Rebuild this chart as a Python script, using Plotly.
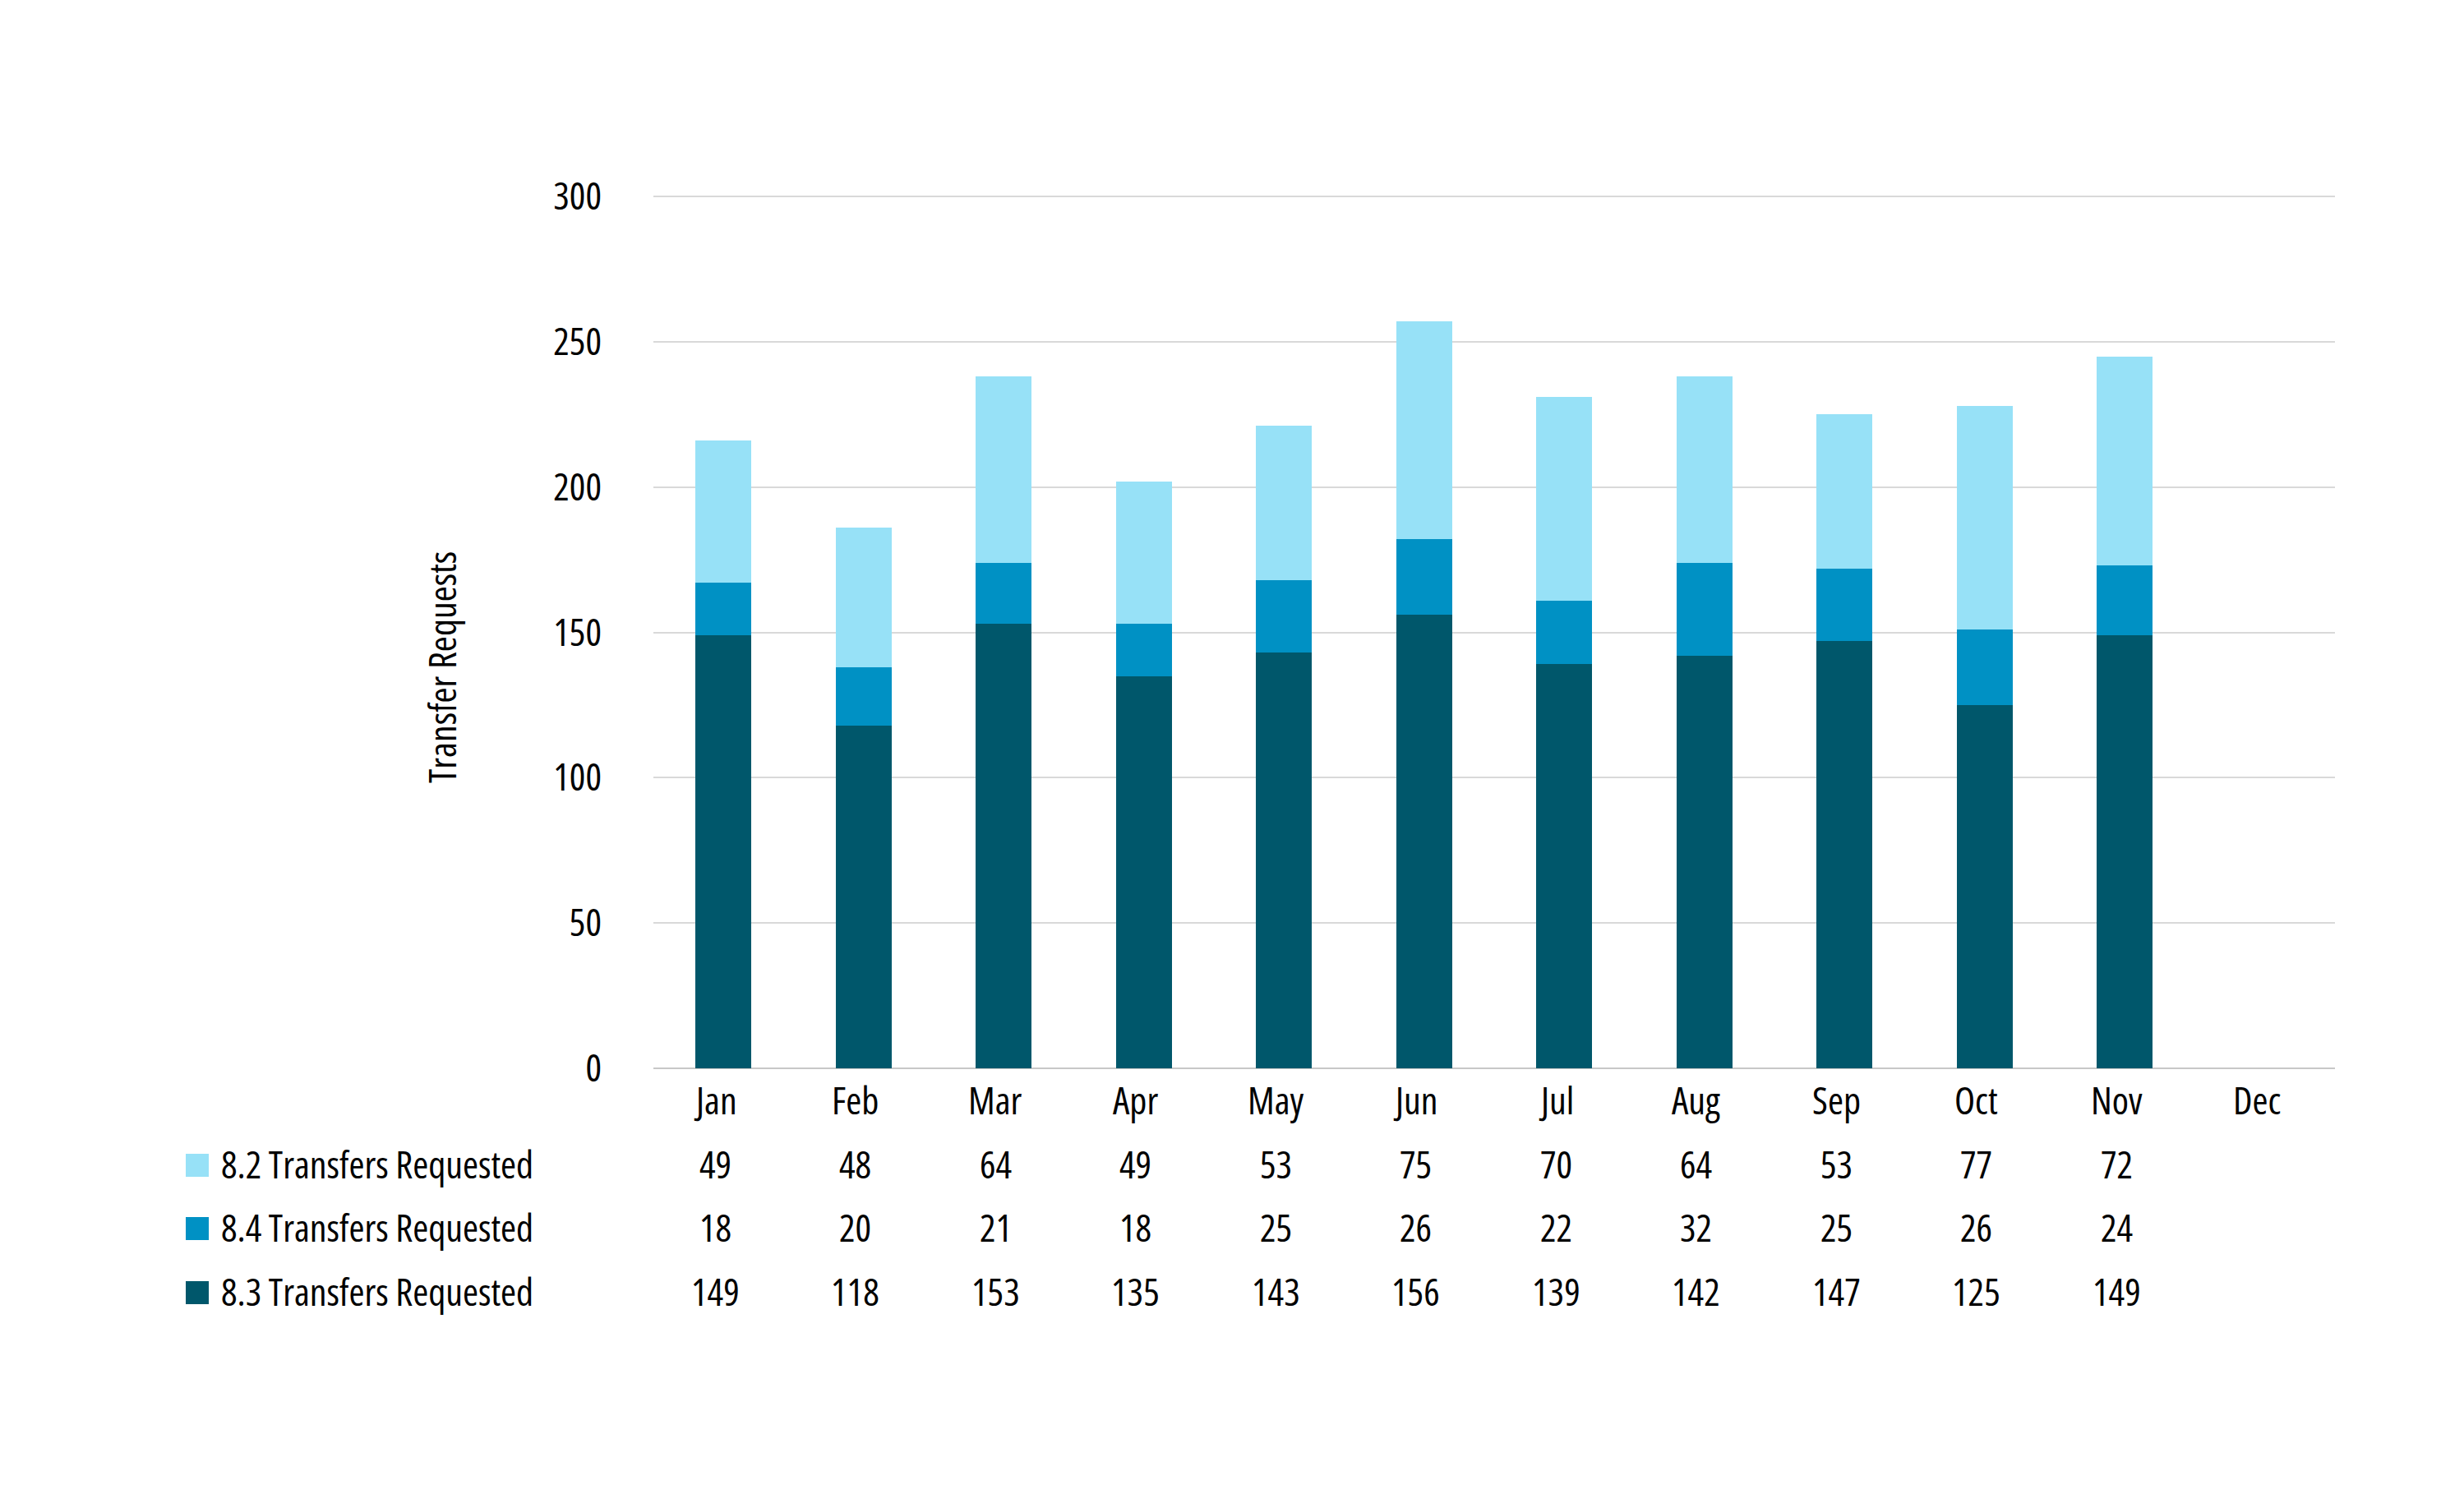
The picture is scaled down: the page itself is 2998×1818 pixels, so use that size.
import plotly.graph_objects as go

months = ["Jan", "Feb", "Mar", "Apr", "May", "Jun", "Jul", "Aug", "Sep", "Oct", "Nov", "Dec"]
s82 = [49, 48, 64, 49, 53, 75, 70, 64, 53, 77, 72, None]
s84 = [18, 20, 21, 18, 25, 26, 22, 32, 25, 26, 24, None]
s83 = [149, 118, 153, 135, 143, 156, 139, 142, 147, 125, 149, None]
y_ticks = [0, 50, 100, 150, 200, 250, 300]

names = ["8.2 Transfers Requested", "8.4 Transfers Requested", "8.3 Transfers Requested"]
colors = {"8.2": "#97E1F7", "8.4": "#0091C4", "8.3": "#00576B"}

FONT = "Open Sans, DejaVu Sans Condensed, sans-serif"
FS = 46


def cond(s):
    return '<span style="font-stretch:condensed">' + s + '</span>'


fig = go.Figure()
# stacking order bottom -> top: 8.3, 8.4, 8.2
fig.add_trace(go.Bar(x=months, y=s83, name=names[2], marker_color=colors["8.3"], marker_line_width=0, showlegend=False))
fig.add_trace(go.Bar(x=months, y=s84, name=names[1], marker_color=colors["8.4"], marker_line_width=0, showlegend=False))
fig.add_trace(go.Bar(x=months, y=s82, name=names[0], marker_color=colors["8.2"], marker_line_width=0, showlegend=False))

OFF = 8  # page body margin
W, H = 2998, 1818
PL, PR, PT, PB = 795, 2841, 237, 1300  # plot area in page pixels
L = PL - OFF
T = PT - OFF
R = W + OFF - PR
B = H + OFF - PB
pw, ph = PR - PL, PB - PT


def px_x(px):
    return (px - PL) / pw


def px_y(py):
    return (PB - py) / ph


rows = [(names[0], s82, colors["8.2"], 1416),
        (names[1], s84, colors["8.4"], 1493),
        (names[2], s83, colors["8.3"], 1571)]

tfont = dict(family=FONT, size=FS, color="#000000")
annotations = []
shapes = []

for m in months:
    annotations.append(dict(x=m, xref="x", y=px_y(1338), yref="paper", text=cond(m), showarrow=False,
                            xanchor="center", yanchor="middle", xshift=-10, font=tfont))

for label, vals, col, ypix in rows:
    yp = px_y(ypix)
    for m, v in zip(months, vals):
        if v is None:
            continue
        annotations.append(dict(x=m, xref="x", y=yp, yref="paper", text=cond(str(v)), showarrow=False,
                                xanchor="center", yanchor="middle", xshift=-10, font=tfont))
    annotations.append(dict(x=px_x(267), xref="paper", y=yp, yref="paper", text=cond(label), showarrow=False,
                            xanchor="left", yanchor="middle", font=tfont))
    shapes.append(dict(type="rect", xref="paper", yref="paper",
                       x0=px_x(226), x1=px_x(254), y0=px_y(ypix + 2 + 14), y1=px_y(ypix + 2 - 14),
                       fillcolor=col, line=dict(width=0)))

annotations.append(dict(x=px_x(537), xref="paper", y=px_y(812), yref="paper", text=cond("Transfer Requests"),
                        textangle=-90, showarrow=False, xanchor="center", yanchor="middle", font=tfont))

fig.update_layout(
    width=W, height=H,
    margin=dict(l=L, r=R, t=T, b=B, autoexpand=False),
    barmode="stack",
    bargap=0.6,
    plot_bgcolor="white",
    paper_bgcolor="white",
    font=tfont,
    annotations=annotations,
    shapes=shapes,
    xaxis=dict(showgrid=False, showline=False, ticks="", showticklabels=False,
               categoryorder="array", categoryarray=months, range=[-0.5, 11.5]),
    yaxis=dict(range=[0, 300.6], tickvals=y_ticks, ticktext=[cond(str(v)) for v in y_ticks],
               showgrid=True, gridcolor="#D9D9D9", gridwidth=2,
               zeroline=True, zerolinecolor="#C8C8C8", zerolinewidth=2, showline=False,
               ticks="", ticklabelstandoff=62, tickfont=tfont),
)

fig.write_html("out.html")
